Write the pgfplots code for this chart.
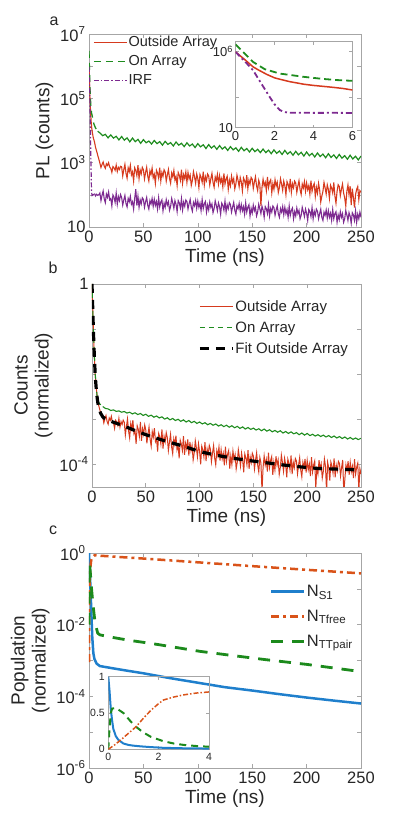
\documentclass[border=0pt]{standalone}
\usepackage{fontspec}
\setmainfont{Liberation Sans}
\usepackage{pgfplots}
\pgfplotsset{compat=1.18}
\definecolor{redA}{HTML}{D63A1E}
\definecolor{greenA}{HTML}{1E8C1E}
\definecolor{purpleA}{HTML}{7D2A90}
\definecolor{blueC}{HTML}{1F7FCC}
\definecolor{orangeC}{HTML}{D95319}
\definecolor{greenC}{HTML}{1C8A1C}
\definecolor{axgray}{HTML}{A6A6A6}
\definecolor{txt}{HTML}{262626}

\pgfplotsset{
  panel/.style={
    scale only axis, clip=true,
    axis line style={draw=axgray, line width=0.7pt},
    every tick/.style={draw=axgray, line width=0.6pt},
    tick align=inside, major tick length=4pt,
    xminorticks=false, yminorticks=false,
    ticklabel style={font=\fontsize{16.5}{16.5}\selectfont, text=txt},
    label style={font=\fontsize{19}{21}\selectfont, text=txt},
    /pgf/number format/assume math mode=true,
    legend cell align=left,
    legend style={draw=none, fill=none, inner sep=0pt, text=txt,
      nodes={inner sep=1pt}},
    legend image code/.code={\draw[##1] (0pt,0pt) -- (33pt,0pt);},
  },
  inset/.style={
    scale only axis, clip=true,
    axis line style={draw=axgray, line width=0.6pt},
    every tick/.style={draw=axgray, line width=0.5pt},
    tick align=inside, major tick length=3pt,
    xminorticks=false, yminorticks=false,
    /pgf/number format/assume math mode=true,
  },
}

\begin{document}
\begin{tikzpicture}
\path[use as bounding box] (0pt,0pt) rectangle (399pt,822pt);

\node[font=\fontsize{16}{16}\selectfont, text=txt] at (54pt,801pt) {a};
\node[font=\fontsize{16}{16}\selectfont, text=txt] at (53pt,554pt) {b};
\node[font=\fontsize{16}{16}\selectfont, text=txt] at (53pt,292pt) {c};

% ---------------- panel a ----------------
\begin{axis}[panel, at={(89pt,595pt)}, anchor=south west,
  width=272pt, height=193pt,
  xmin=0, xmax=250, xtick={0,50,...,250},
  ymode=log, ymin=10, ymax=1e7,
  ytick={10,100,1000,1e4,1e5,1e6,1e7},
  yticklabels={10,,10\textsuperscript{3},,10\textsuperscript{5},,10\textsuperscript{7}},
  xlabel={Time (ns)}, ylabel={PL (counts)},
  legend style={at={(axis description cs:0.015,0.995)}, anchor=north west,
    font=\fontsize{14.5}{14.5}\selectfont, row sep=5.5pt},
]
\addplot[redA, line width=1.1pt] coordinates {
(0,950000) (0.3,500000) (0.6,220000) (0.9,100000) (1.2,60000) (1.6,30000) (2,19000) (2.5,12000) (3,9000) (3.5,7200) (4,5800) (5,4500) (6,3000) (7,2300) (8,1700) (9,1300)
(10,970) (11,710) (12,880) (13,1050) (14,780) (15,670) (16,920) (17,820) (18,1000) (19,730)
(20,660) (21,500) (22,755) (23,690) (24,580) (25,840) (26,530) (27,710) (28,615) (29,770)
(30,745) (31,386) (32,607) (33,883) (34,469) (35,331) (36,690) (37,524) (38,828) (39,414)
(40,518) (41,271) (42,690) (43,567) (44,394) (45,838) (46,320) (47,592) (48,444) (49,715)
(50,606) (51,314) (52,494) (53,718) (54,382) (55,269) (56,561) (57,427) (58,674) (59,337)
(60,435) (61,228) (62,580) (63,476) (64,331) (65,704) (66,269) (67,497) (68,373) (69,600)
(70,516) (71,267) (72,420) (73,611) (74,325) (75,229) (76,478) (77,363) (78,573) (79,287)
(80,371) (81,194) (82,494) (83,406) (84,282) (85,600) (86,229) (87,424) (88,318) (89,512)
(90,245) (91,491) (92,311) (93,409) (94,196) (95,278) (96,523) (97,360) (98,229) (99,441)
(100,322) (101,169) (102,430) (103,353) (104,246) (105,522) (106,200) (107,368) (108,276) (109,445)
(110,390) (111,202) (112,318) (113,462) (114,246) (115,173) (116,361) (117,275) (118,434) (119,217)
(120,393) (121,244) (122,325) (123,176) (124,461) (125,217) (126,312) (127,379) (128,149) (129,285)
(130,191) (131,383) (132,242) (133,319) (134,153) (135,217) (136,408) (137,281) (138,179) (139,344)
(140,252) (141,132) (142,336) (143,276) (144,192) (145,408) (146,156) (147,288) (148,216) (149,348)
(150,305) (151,158) (152,249) (153,362) (154,192) (155,136) (156,283) (157,215) (158,45) (159,170)
(160,306) (161,190) (162,243) (163,137) (164,359) (165,169) (166,253) (167,295) (168,116) (169,222)
(170,148) (171,296) (172,187) (173,246) (174,118) (175,167) (176,315) (177,217) (178,138) (179,266)
(180,193) (181,101) (182,258) (183,212) (184,147) (185,313) (186,120) (187,221) (188,166) (189,267)
(190,232) (191,120) (192,189) (193,275) (194,146) (195,103) (196,215) (197,163) (198,258) (199,129)
(200,233) (201,145) (202,193) (203,105) (204,274) (205,129) (206,185) (207,225) (208,89) (209,169)
(210,113) (211,227) (212,143) (213,60) (214,91) (215,128) (216,242) (217,166) (218,106) (219,204)
(220,149) (221,78) (222,199) (223,163) (224,114) (225,241) (226,92) (227,55) (228,128) (229,206)
(230,182) (231,95) (232,149) (233,216) (234,115) (235,81) (236,45) (237,128) (238,203) (239,101)
(240,187) (241,48) (242,155) (243,84) (244,40) (245,103) (246,148) (247,181) (248,71) (249,135) (250,120)
};
\addplot[greenA, line width=1.3pt, dash pattern=on 7pt off 5pt] coordinates {
(0,3000000) (0.3,1200000) (0.6,450000) (0.9,210000) (1.3,100000) (1.7,60000) (2.27,36000) (3,28000) (3.5,22000) (4.5,16000) (6,12000) (8,9500)
};
\addplot[greenA, line width=1.2pt, forget plot] coordinates {
(8,9500) (10,8400) (12.5,6900) (15,7600) (17.5,5900) (20,7300) (22.5,5800) (25,6600) (27.5,5100)
(30,6500) (32.5,5000) (35,5900) (37.5,4450) (40,5800) (42.5,4500) (45,5300) (47.5,4000)
(50,5200) (52.5,4150) (55,4700) (57.5,3800) (60,4900) (62.5,3900) (65,4500) (67.5,3500)
(70,4600) (72.5,3700) (75,4200) (77.5,3300) (80,4400) (82.5,3500) (85,4000) (87.5,3150)
(90,4150) (92.5,3300) (95,3800) (97.5,2950) (100,3900) (102.5,3100) (105,3600) (107.5,2750)
(110,3650) (112.5,2850) (115,3350) (117.5,2600) (120,3400) (122.5,2650) (125,3100) (127.5,2400)
(130,3150) (132.5,2500) (135,2900) (137.5,2250) (140,3000) (142.5,2350) (145,2750) (147.5,2150)
(150,2800) (152.5,2200) (155,2600) (157.5,2050) (160,2650) (162.5,2050) (165,2450) (167.5,1900)
(170,2500) (172.5,1950) (175,2300) (177.5,1800) (180,2400) (182.5,1850) (185,2200) (187.5,1700)
(190,2250) (192.5,1750) (195,2100) (197.5,1600) (200,2150) (202.5,1650) (205,1950) (207.5,1500)
(210,2000) (212.5,1550) (215,1850) (217.5,1420) (220,1900) (222.5,1450) (225,1750) (227.5,1350)
(230,1800) (232.5,1380) (235,1650) (237.5,1280) (240,1700) (242.5,1300) (245,1580) (247.5,1220) (250,1600)
};
\addplot[purpleA, line width=1.2pt, dash pattern=on 5pt off 2pt on 1.5pt off 2pt] coordinates {
(0,950000) (0.3,550000) (0.6,200000) (0.9,60000) (1.2,15000) (1.5,3500) (1.75,1100) (2,420) (2.27,145) (2.8,95) (3.5,97) (5,110)
};
\addplot[purpleA, line width=1.1pt, forget plot] coordinates {
(5,110) (6,92) (7,104) (8,96) (9,100)
(10,114) (11,66) (12,97) (13,132) (14,75) (15,57) (16,106) (17,84) (18,123) (19,70)
(20,77) (21,45) (22,99) (23,84) (24,58) (25,113) (26,51) (27,88) (28,66) (29,102)
(30,83) (31,48) (32,70) (33,96) (34,54) (35,42) (36,77) (37,61) (38,90) (39,51)
(40,61) (41,36) (42,78) (43,150) (44,46) (45,90) (46,41) (47,70) (48,52) (49,81)
(50,72) (51,41) (52,61) (53,83) (54,47) (55,36) (56,66) (57,52) (58,77) (59,44)
(60,73) (61,47) (62,62) (63,36) (64,81) (65,42) (66,60) (67,70) (68,32) (69,55)
(70,41) (71,71) (72,48) (73,61) (74,33) (75,43) (76,77) (77,56) (78,38) (79,66)
(80,51) (81,30) (82,66) (83,56) (84,39) (85,76) (86,34) (87,59) (88,44) (89,69)
(90,62) (91,36) (92,53) (93,72) (94,41) (95,31) (96,58) (97,46) (98,67) (99,38)
(100,64) (101,41) (102,55) (103,32) (104,71) (105,37) (106,53) (107,62) (108,29) (109,48)
(110,34) (111,60) (112,41) (113,52) (114,28) (115,37) (116,65) (117,47) (118,32) (119,56)
(120,43) (121,25) (122,55) (123,47) (124,33) (125,64) (126,29) (127,49) (128,37) (129,57)
(130,50) (131,29) (132,42) (133,58) (134,33) (135,25) (136,46) (137,37) (138,54) (139,31)
(140,50) (141,32) (142,43) (143,25) (144,56) (145,29) (146,41) (147,49) (148,22) (149,38)
(150,27) (151,48) (152,32) (153,41) (154,22) (155,29) (156,51) (157,37) (158,26) (159,44)
(160,34) (161,20) (162,43) (163,37) (164,26) (165,50) (166,22) (167,38) (168,29) (169,45)
(170,40) (171,23) (172,34) (173,46) (174,26) (175,20) (176,37) (177,29) (178,43) (179,24)
(180,41) (181,26) (182,35) (183,20) (184,45) (185,23) (186,33) (187,39) (188,18) (189,30)
(190,22) (191,39) (192,26) (193,33) (194,18) (195,23) (196,41) (197,30) (198,21) (199,36)
(200,27) (201,16) (202,35) (203,30) (204,21) (205,40) (206,18) (207,31) (208,23) (209,36)
(210,31) (211,18) (212,26) (213,36) (214,20) (215,16) (216,29) (217,23) (218,34) (219,19)
(220,32) (221,20) (222,27) (223,16) (224,35) (225,18) (226,26) (227,30) (228,14) (229,24)
(230,17) (231,30) (232,20) (233,26) (234,14) (235,18) (236,32) (237,24) (238,16) (239,28)
(240,22) (241,13) (242,28) (243,24) (244,16) (245,32) (246,14) (247,25) (248,18) (249,29) (250,20)
};
\legend{Outside Array, On Array, IRF}
\end{axis}

% inset a
\begin{axis}[inset, at={(235.5pt,694.3pt)}, anchor=south west,
  width=117pt, height=86pt,
  xmin=0, xmax=6, xtick={0,2,4,6},
  ymode=log, ymin=10, ymax=4.5e6,
  ytick={10,1000,1e6}, yticklabels={10,,10\textsuperscript{6}},
  ticklabel style={font=\fontsize{13}{13}\selectfont, text=txt},
  yticklabel style={xshift=1pt},
]
\addplot[redA, line width=1.5pt] coordinates {
(0,950000) (0.45,320000) (0.9,100000) (1.2,60000) (1.6,32000) (2,19000) (2.3,15000) (2.8,10500) (3.2,8500) (3.5,7200) (4,6000) (4.5,5200) (5,4500) (5.5,3800) (6,3000)
};
\addplot[greenA, line width=1.8pt, dash pattern=on 7pt off 4pt] coordinates {
(0,3000000) (0.45,800000) (0.9,210000) (1.5,70000) (2.27,36000) (3,27000) (3.5,22000) (4.5,16000) (5.2,13500) (6,12000)
};
\addplot[purpleA, line width=1.8pt, dash pattern=on 6pt off 3pt on 2pt off 3pt] coordinates {
(0,950000) (0.45,250000) (0.9,60000) (1.3,8900) (1.75,1070) (2,350) (2.27,145) (2.5,107) (2.8,95) (3.5,97) (4,94) (5,95) (6,93)
};
\end{axis}

% ---------------- panel b ----------------
\begin{axis}[panel, at={(92pt,335pt)}, anchor=south west,
  width=269pt, height=203pt,
  xmin=0, xmax=250, xtick={0,50,...,250},
  ymode=log, ymin=3.1e-5, ymax=1,
  ytick={1e-4,1e-3,1e-2,1e-1,1},
  yticklabels={10\textsuperscript{-4},,,,1},
  xlabel={Time (ns)}, ylabel={Counts\\(normalized)}, ylabel style={align=center},
  legend style={at={(axis description cs:0.394,0.926)}, anchor=north west,
    font=\fontsize{15}{15}\selectfont, row sep=7pt},
]
\addplot[redA, line width=1pt] coordinates {
(0,1) (0.5,0.4) (1,0.16) (1.5,0.068) (2,0.032) (3,0.0095) (4,0.0048) (5,0.0028) (6,0.0021) (7,0.0017) (8,0.0014) (9,0.0012)
(10,11.0e-4) (11,8.2e-4) (12,10.1e-4) (13,12.0e-4) (14,8.9e-4) (15,7.7e-4) (16,10.6e-4) (17,9.4e-4) (18,11.5e-4) (19,8.4e-4)
(20,8.2e-4) (21,6.2e-4) (22,9.4e-4) (23,8.6e-4) (24,7.2e-4) (25,10.4e-4) (26,6.6e-4) (27,8.8e-4) (28,7.6e-4) (29,9.5e-4)
(30,8.5e-4) (31,4.4e-4) (32,6.9e-4) (33,10.1e-4) (34,5.4e-4) (35,3.8e-4) (36,7.9e-4) (37,6.0e-4) (38,9.5e-4) (39,4.7e-4)
(40,5.4e-4) (41,2.8e-4) (42,7.1e-4) (43,5.9e-4) (44,4.1e-4) (45,8.7e-4) (46,3.3e-4) (47,6.1e-4) (48,4.6e-4) (49,7.4e-4)
(50,5.7e-4) (51,2.9e-4) (52,4.6e-4) (53,6.7e-4) (54,3.6e-4) (55,2.5e-4) (56,5.25e-4) (57,4.0e-4) (58,6.3e-4) (59,3.15e-4)
(60,3.6e-4) (61,1.9e-4) (62,4.8e-4) (63,4.0e-4) (64,2.8e-4) (65,5.9e-4) (66,2.2e-4) (67,4.1e-4) (68,3.1e-4) (69,5.0e-4)
(70,3.85e-4) (71,2.0e-4) (72,3.1e-4) (73,4.6e-4) (74,2.4e-4) (75,1.7e-4) (76,3.6e-4) (77,2.7e-4) (78,4.3e-4) (79,2.1e-4)
(80,2.6e-4) (81,1.35e-4) (82,3.4e-4) (83,2.8e-4) (84,2.0e-4) (85,4.2e-4) (86,1.6e-4) (87,2.9e-4) (88,2.2e-4) (89,3.55e-4)
(90,1.55e-4) (91,3.1e-4) (92,1.97e-4) (93,2.6e-4) (94,1.24e-4) (95,1.76e-4) (96,3.3e-4) (97,2.3e-4) (98,1.45e-4) (99,2.8e-4)
(100,1.9e-4) (101,0.99e-4) (102,2.5e-4) (103,2.07e-4) (104,1.44e-4) (105,3.06e-4) (106,1.17e-4) (107,2.16e-4) (108,1.62e-4) (109,2.6e-4)
(110,2.17e-4) (111,1.13e-4) (112,1.77e-4) (113,2.58e-4) (114,1.37e-4) (115,0.97e-4) (116,2.0e-4) (117,1.53e-4) (118,2.4e-4) (119,1.2e-4)
(120,2.09e-4) (121,1.3e-4) (122,1.73e-4) (123,0.94e-4) (124,2.45e-4) (125,1.15e-4) (126,1.66e-4) (127,2.0e-4) (128,0.79e-4) (129,1.51e-4)
(130,0.98e-4) (131,1.95e-4) (132,1.24e-4) (133,1.63e-4) (134,0.78e-4) (135,1.1e-4) (136,2.08e-4) (137,1.43e-4) (138,0.91e-4) (139,1.76e-4)
(140,1.26e-4) (141,0.66e-4) (142,1.68e-4) (143,1.38e-4) (144,0.96e-4) (145,2.04e-4) (146,0.78e-4) (147,1.44e-4) (148,1.08e-4) (149,1.74e-4)
(150,1.51e-4) (151,0.78e-4) (152,1.23e-4) (153,1.79e-4) (154,0.95e-4) (155,0.67e-4) (156,1.4e-4) (157,1.06e-4) (158,0.25e-4) (159,0.84e-4)
(160,1.52e-4) (161,0.95e-4) (162,1.26e-4) (163,0.68e-4) (164,1.79e-4) (165,0.84e-4) (166,1.21e-4) (167,1.47e-4) (168,0.58e-4) (169,1.1e-4)
(170,0.74e-4) (171,1.49e-4) (172,0.94e-4) (173,1.24e-4) (174,0.59e-4) (175,0.84e-4) (176,1.58e-4) (177,1.09e-4) (178,0.69e-4) (179,1.34e-4)
(180,0.97e-4) (181,0.51e-4) (182,1.29e-4) (183,1.06e-4) (184,0.74e-4) (185,1.56e-4) (186,0.6e-4) (187,1.1e-4) (188,0.83e-4) (189,1.33e-4)
(190,1.17e-4) (191,0.61e-4) (192,0.96e-4) (193,1.39e-4) (194,0.74e-4) (195,0.52e-4) (196,1.09e-4) (197,0.83e-4) (198,1.31e-4) (199,0.65e-4)
(200,1.21e-4) (201,0.75e-4) (202,1.0e-4) (203,0.54e-4) (204,1.42e-4) (205,0.67e-4) (206,0.96e-4) (207,1.17e-4) (208,0.29e-4) (209,0.88e-4)
(210,0.61e-4) (211,1.22e-4) (212,0.77e-4) (213,1.01e-4) (214,0.49e-4) (215,0.69e-4) (216,1.3e-4) (217,0.89e-4) (218,0.24e-4) (219,1.09e-4)
(220,0.83e-4) (221,0.43e-4) (222,1.11e-4) (223,0.91e-4) (224,0.63e-4) (225,1.34e-4) (226,0.51e-4) (227,0.95e-4) (228,0.71e-4) (229,1.15e-4)
(230,1.04e-4) (231,0.54e-4) (232,0.85e-4) (233,1.23e-4) (234,0.23e-4) (235,0.46e-4) (236,0.96e-4) (237,0.73e-4) (238,1.16e-4) (239,0.58e-4)
(240,1.09e-4) (241,0.68e-4) (242,0.9e-4) (243,0.49e-4) (244,1.28e-4) (245,0.6e-4) (246,0.86e-4) (247,1.05e-4) (248,0.26e-4) (249,0.79e-4) (250,0.6e-4)
};
\addplot[greenA, line width=1.1pt, dash pattern=on 5pt off 4pt] coordinates {
(0,1) (0.5,0.4) (1,0.16) (1.5,0.07) (2,0.032) (3,0.01) (4,0.0052) (5,0.0027) (6,0.0024) (7,0.0022) (8,0.0021) (9,0.002) (10,0.0019)
};
\addplot[greenA, line width=1.1pt, forget plot] coordinates {
(10,1.9e-3) (12.5,1.72e-3) (15,1.68e-3) (17.5,1.55e-3) (20,1.6e-3) (22.5,1.48e-3) (25,1.52e-3) (27.5,1.42e-3)
(30,1.47e-3) (32.5,1.36e-3) (35,1.42e-3) (37.5,1.3e-3) (40,1.38e-3) (42.5,1.26e-3) (45,1.33e-3) (47.5,1.2e-3)
(50,1.28e-3) (52.5,1.15e-3) (55,1.22e-3) (57.5,1.1e-3) (60,1.17e-3) (62.5,1.06e-3) (65,1.12e-3) (67.5,1.0e-3)
(70,1.07e-3) (72.5,9.6e-4) (75,1.03e-3) (77.5,9.3e-4) (80,9.9e-4) (82.5,8.9e-4) (85,9.6e-4) (87.5,8.6e-4)
(90,9.3e-4) (92.5,8.3e-4) (95,8.9e-4) (97.5,8.0e-4) (100,8.6e-4) (102.5,7.8e-4) (105,8.3e-4) (107.5,7.5e-4)
(110,8.0e-4) (112.5,7.3e-4) (115,7.8e-4) (117.5,7.0e-4) (120,7.5e-4) (122.5,6.8e-4) (125,7.3e-4) (127.5,6.6e-4)
(130,7.1e-4) (132.5,6.4e-4) (135,6.9e-4) (137.5,6.2e-4) (140,6.7e-4) (142.5,6.0e-4) (145,6.5e-4) (147.5,5.9e-4)
(150,6.3e-4) (152.5,5.7e-4) (155,6.1e-4) (157.5,5.5e-4) (160,6.0e-4) (162.5,5.4e-4) (165,5.8e-4) (167.5,5.2e-4)
(170,5.6e-4) (172.5,5.1e-4) (175,5.5e-4) (177.5,4.9e-4) (180,5.3e-4) (182.5,4.8e-4) (185,5.2e-4) (187.5,4.7e-4)
(190,5.0e-4) (192.5,4.5e-4) (195,4.9e-4) (197.5,4.4e-4) (200,4.8e-4) (202.5,4.3e-4) (205,4.6e-4) (207.5,4.2e-4)
(210,4.5e-4) (212.5,4.1e-4) (215,4.4e-4) (217.5,4.0e-4) (220,4.3e-4) (222.5,3.9e-4) (225,4.2e-4) (227.5,3.8e-4)
(230,4.1e-4) (232.5,3.7e-4) (235,4.0e-4) (237.5,3.6e-4) (240,3.9e-4) (242.5,3.55e-4) (245,3.8e-4) (247.5,3.5e-4) (250,3.75e-4)
};
\addplot[black, line width=3.2pt, dash pattern=on 9pt off 7pt] coordinates {
(0,1) (0.5,0.4) (1,0.16) (1.5,0.068) (2,0.032) (3,0.0092) (4,0.0045) (5,0.0027) (6,0.0019) (8,0.00135) (10,0.00112) (12,0.00102) (16,0.00093) (20,0.00085)
(30,0.0007) (38,0.00058) (50,0.00045) (69,0.00032) (85,0.00025) (100,0.00019) (115,0.000158) (131,0.000135) (146,0.00012) (162,0.000107)
(177,0.000096) (193,0.000087) (210,0.00008) (230,0.000077) (250,0.000074)
};
\legend{Outside Array, On Array, Fit Outside Array}
\end{axis}

% ---------------- panel c ----------------
\begin{axis}[panel, at={(89pt,54pt)}, anchor=south west,
  width=272pt, height=215pt,
  xmin=0, xmax=250, xtick={0,50,...,250},
  ymode=log, ymin=1e-6, ymax=1,
  ytick={1e-6,1e-5,1e-4,1e-3,1e-2,1e-1,1},
  yticklabels={10\textsuperscript{-6},,10\textsuperscript{-4},,10\textsuperscript{-2},,10\textsuperscript{0}},
  xlabel={Time (ns)}, ylabel={Population\\(normalized)}, ylabel style={align=center},
  legend style={at={(axis description cs:0.665,0.856)}, anchor=north west,
    font=\fontsize{16.5}{16.5}\selectfont, row sep=10pt},
]
\addplot[blueC, line width=2.5pt] coordinates {
(0,1) (0.5,0.45) (1,0.2) (1.5,0.08) (2,0.03) (2.5,0.011) (3,0.0045) (4,0.0016) (5,0.0011) (7,0.00082) (10,0.0007) (20,0.00062)
(35,0.00052) (50,0.00044) (75,0.00032) (100,0.00024) (125,0.00018) (150,0.000145) (175,0.000115) (200,0.0000925) (225,0.000076) (250,0.000063)
};
\addplot[orangeC, line width=2.5pt, dash pattern=on 8pt off 4pt on 3pt off 4pt] coordinates {
(0.01,0.0009) (0.1,0.02) (0.3,0.08) (0.5,0.13) (1,0.3) (1.5,0.47) (2,0.62) (3,0.74) (4,0.8) (5,0.86) (10,0.84)
(50,0.70) (100,0.55) (150,0.43) (200,0.34) (250,0.27)
};
\addplot[greenC, line width=2.8pt, dash pattern=on 12pt off 9pt] coordinates {
(0.02,0.01) (0.1,0.2) (0.3,0.5) (0.6,0.5) (1,0.35) (1.5,0.22) (2,0.13) (3,0.06) (4,0.03) (5,0.016) (6,0.01) (8,0.0058) (10,0.0052)
(20,0.0045) (36,0.0037) (60,0.0029) (102,0.0018) (130,0.0014) (163,0.00105) (200,0.00078) (250,0.00049)
};
\legend{N\textsubscript{S1}, N\textsubscript{Tfree}, N\textsubscript{TTpair}}
\end{axis}

% inset c
\begin{axis}[inset, at={(108.3pt,72.7pt)}, anchor=south west,
  width=100.7pt, height=72.6pt,
  xmin=0, xmax=4, xtick={0,2,4},
  ymin=0, ymax=1, ytick={0,0.5,1},
  ticklabel style={font=\fontsize{10.5}{10.5}\selectfont, text=txt},
]
\addplot[blueC, line width=2pt] coordinates {
(0,1) (0.05,0.8) (0.1,0.55) (0.15,0.4) (0.2,0.28) (0.3,0.18) (0.4,0.13) (0.6,0.08) (0.8,0.06) (1,0.05) (1.3,0.04) (1.7,0.03) (2.2,0.02) (3,0.014) (4,0.01)
};
\addplot[greenC, line width=2pt, dash pattern=on 7pt off 5pt] coordinates {
(0,0) (0.05,0.3) (0.1,0.5) (0.15,0.56) (0.3,0.57) (0.6,0.5) (0.9,0.38) (1.1,0.31) (1.4,0.23) (1.7,0.17) (2.2,0.11) (2.6,0.08) (3,0.06) (3.5,0.045) (4,0.035)
};
\addplot[orangeC, line width=1.5pt, dash pattern=on 5pt off 2pt on 1.5pt off 2pt] coordinates {
(0,0) (0.25,0.06) (0.5,0.13) (0.8,0.22) (1.1,0.31) (1.4,0.43) (1.7,0.54) (2,0.63) (2.2,0.68) (2.6,0.72) (3,0.75) (3.5,0.775) (4,0.79)
};
\end{axis}
\end{tikzpicture}
\end{document}
